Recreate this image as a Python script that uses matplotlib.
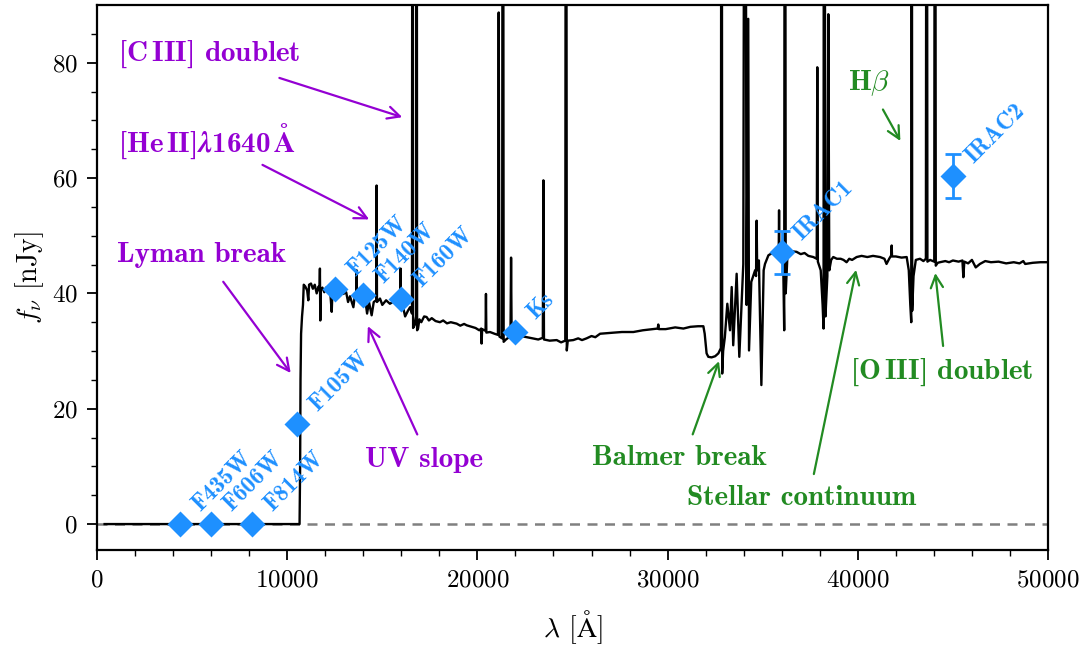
import numpy as np
import matplotlib
matplotlib.use('Agg')
import matplotlib.pyplot as plt

plt.rcParams['font.family'] = ['cmr10', 'DejaVu Serif']
plt.rcParams['mathtext.fontset'] = 'cm'
plt.rcParams['axes.formatter.use_mathtext'] = True

# model spectrum, wavelength [A] and flux density [nJy]; lines that run off the top get 200
wave = [400, 10650, 10680, 10700, 10730, 10780, 10830, 10870,
        10950, 11050, 11110, 11150, 11250, 11350, 11450, 11550, 11650, 11700, 11720, 11740, 11760,
        11850, 11950, 12050, 12150, 12250, 12340, 12380, 12500, 12650, 12800, 12950, 13100, 13200,
        13300, 13480, 13550, 13630, 13650, 13670, 13800, 13950, 14100, 14200, 14300, 14440, 14550,
        14680, 14700, 14720, 14880, 15000, 15200, 15400, 15600, 15800, 15940, 15960, 15980, 16100,
        16200, 16350, 16460, 16560, 16590, 16620, 16700, 16780, 16800, 16830, 16880,
        16950, 17050, 17200, 17330, 17450, 17600, 17800, 18030, 18200, 18400, 18600, 18910, 19100,
        19300, 19440, 19700, 19900, 20100, 20200, 20220, 20250, 20430, 20450, 20470, 20660, 20900,
        21080, 21120, 21160, 21300, 21340, 21380, 21500, 21740, 21770, 21800, 22000, 22300, 22590,
        22900, 23200, 23440, 23470, 23500, 23800, 24170, 24400, 24620, 24660, 24700, 24750, 25040,
        25300, 25500, 25740, 26000, 26200, 26450, 26800, 27200, 27600, 28200, 28700, 29200, 29480,
        29510, 29540, 29900, 30400, 30830, 31200, 31600, 31880, 31950, 32050, 32140, 32310, 32500,
        32670, 32800, 32840, 32870, 32920, 33010, 33140, 33280, 33370, 33450, 33630, 33770, 33980,
        34070, 34150, 34240, 34280, 34400, 34600, 34650, 34680, 34710, 34800, 34930, 35050, 35120,
        35300, 35500, 35700, 35840, 35860, 35880, 36000, 36080, 36130, 36170, 36210, 36300, 36500,
        36780, 37000, 37200, 37400, 37660, 37840, 37870, 37900, 38050, 38150, 38200, 38220, 38300,
        38400, 38450, 38500, 38600, 38710, 38900, 39100, 39250, 39410, 39550, 39700, 39940, 40200,
        40500, 40800, 41170, 41400, 41510, 41650, 41760, 41780, 41800, 42000, 42300, 42570, 42680,
        42760, 42810, 42830, 42860, 42930, 43050, 43270, 43450, 43580, 43620, 43660, 43800, 44020,
        44060, 44100, 44200, 44320, 44600, 44800, 45000, 45300, 45500, 45550, 45600, 45800, 46000,
        46200, 46420, 46700, 47000, 47400, 47800, 48200, 48500, 48700, 48800, 49200, 49600, 50000]
flux = [0, 0, 10, 25, 33, 36, 38, 41.5,
        41.2, 40.5, 38.8, 41.5, 41.7, 40.8, 41.5, 40.0, 41.2, 40.5, 44.3, 35.3, 40.5,
        41.0, 40.2, 41.0, 40.5, 40.8, 36.8, 40.5, 40.6, 40.0, 40.3, 39.9, 40.2, 38.5,
        39.5, 37.6, 39.5, 39.8, 44.0, 39.0, 39.5, 38.8, 39.0, 36.5, 38.5, 36.2, 38.5,
        38.8, 58.7, 38.5, 39.1, 38.0, 38.8, 38.2, 38.6, 38.0, 38.3, 44.3, 37.8, 37.5,
        36.0, 37.0, 37.6, 36.5, 200, 34.0, 34.5, 36.0, 200, 33.6, 33.9,
        35.5, 35.0, 36.0, 35.9, 35.3, 35.7, 35.2, 35.0, 35.3, 34.8, 35.0, 34.75, 34.4,
        34.7, 34.46, 34.2, 34.0, 33.6, 33.9, 31.3, 33.8, 33.5, 39.9, 33.2, 33.3, 33.0,
        32.8, 88.7, 32.5, 32.2, 200, 31.6, 32.0, 32.6, 46.2, 32.5, 32.8, 32.6, 32.4,
        32.2, 32.0, 32.3, 59.6, 32.0, 31.8, 31.9, 31.5, 31.8, 200, 30.1, 31.8, 31.9,
        32.2, 31.9, 32.2, 32.6, 32.4, 33.0, 33.1, 33.2, 33.3, 33.3, 33.6, 33.8, 33.9,
        34.6, 33.8, 33.8, 34.1, 33.9, 34.2, 34.3, 34.3, 33.0, 29.6, 29.0, 28.9, 29.1,
        29.6, 30.5, 200, 26.1, 30.0, 32.4, 38.2, 33.6, 41.1, 31.0, 43.4, 29.0, 45.1,
        200, 38.0, 87.6, 30.1, 42.0, 44.0, 43.0, 52.6, 44.0, 45.7, 24.1, 44.0, 45.1,
        46.6, 47.0, 46.8, 46.5, 54.4, 46.0, 46.5, 45.0, 33.6, 200, 40.0, 46.5, 47.3,
        47.2, 46.8, 47.0, 46.5, 46.3, 46.0, 79.2, 45.5, 44.0, 38.0, 33.9, 200, 36.0,
        43.0, 88.4, 44.0, 45.8, 46.3, 46.0, 46.0, 45.8, 45.4, 46.0, 45.8, 46.3, 46.5,
        46.3, 46.5, 46.3, 46.0, 45.1, 46.0, 46.6, 48.3, 46.4, 46.4, 46.2, 46.3, 44.0,
        38.0, 35.0, 200, 37.0, 43.0, 45.8, 46.0, 45.6, 46.0, 200, 45.5, 45.8, 45.5,
        200, 44.8, 45.3, 45.4, 45.6, 45.4, 45.7, 45.5, 45.7, 42.8, 45.5, 45.2, 45.8,
        44.5, 45.1, 45.6, 45.4, 45.5, 45.2, 45.4, 45.2, 45.6, 45.1, 45.3, 45.4, 45.4]

# broad-band photometry
bands = ['F435W', 'F606W', 'F814W', 'F105W', 'F125W', 'F140W', 'F160W', 'Ks', 'IRAC1', 'IRAC2']
band_wave = [4350, 6000, 8150, 10500, 12500, 14000, 16000, 22000, 36000, 45000]
band_flux = [0, 0, 0, 17.3, 40.7, 39.65, 38.95, 33.25, 47.1, 60.3]
band_err = [0, 0, 0, 0, 0, 0, 0, 0, 3.7, 3.8]

purple = 'darkviolet'
green = 'forestgreen'
blue = 'dodgerblue'

fig = plt.figure(figsize=(10.85, 6.48), dpi=100)
ax = fig.add_axes([0.0894, 0.1512, 0.8765, 0.8411])

ax.axhline(0, color='gray', ls='--', lw=1.8, dashes=(4, 3), zorder=1)
ax.plot(wave, flux, color='black', lw=1.7, zorder=2)

ax.errorbar(band_wave[8:], band_flux[8:], yerr=band_err[8:], fmt='none', ecolor=blue,
            elinewidth=2, capsize=6, capthick=2, zorder=3)
ax.plot(band_wave, band_flux, 'D', color=blue, ms=13, mec='none', zorder=4)
for name, x, y in zip(bands, band_wave, band_flux):
    ax.annotate(name, (x, y), xytext=(17, 6), textcoords='offset points', rotation=45,
                rotation_mode='anchor', ha='left', va='bottom', color=blue,
                fontsize=17, family='cmb10')

lab = dict(family='cmb10', fontsize=21, va='center', ha='left')
arr = dict(arrowstyle='->', lw=1.6, mutation_scale=22)

ax.text(1100, 81.5, '[C$\\,$III] doublet', color=purple, **lab)
ax.annotate('', xy=(16190, 70.4), xytext=(9450, 77.5), arrowprops=dict(color=purple, **arr))
ax.text(1100, 66.3, '[He$\\,$II]$\\mathbfit{\\lambda}$1640$\\,\\mathbf{\\AA}$', color=purple,
        math_fontfamily='stix', **lab)
ax.annotate('', xy=(14440, 52.6), xytext=(8570, 62.5), arrowprops=dict(color=purple, **arr))
ax.text(1050, 46.6, 'Lyman break', color=purple, **lab)
ax.annotate('', xy=(10270, 25.8), xytext=(6550, 42.4), arrowprops=dict(color=purple, **arr))
ax.text(14090, 11.1, 'UV slope', color=purple, **lab)
ax.annotate('', xy=(14180, 34.75), xytext=(16900, 15.1), arrowprops=dict(color=purple, **arr))

ax.text(39500, 76.4, 'H$\\beta$', color=green, **lab)
ax.annotate('', xy=(42310, 66.0), xytext=(41250, 72.3), arrowprops=dict(color=green, **arr))
ax.text(39590, 26.3, '[O$\\,$III] doublet', color=green, **lab)
ax.annotate('', xy=(44060, 44.0), xytext=(44500, 30.4), arrowprops=dict(color=green, **arr))
ax.text(31000, 4.5, 'Stellar continuum', color=green, **lab)
ax.annotate('', xy=(39940, 44.55), xytext=(37660, 8.2), arrowprops=dict(color=green, **arr))
ax.text(26000, 11.4, 'Balmer break', color=green, **lab)
ax.annotate('', xy=(32750, 28.7), xytext=(31270, 15.1), arrowprops=dict(color=green, **arr))

ax.set_xlim(0, 50000)
ax.set_ylim(-4.5, 90)
ax.set_xticks(np.arange(0, 50001, 10000))
ax.set_xticks(np.arange(0, 50001, 2000), minor=True)
ax.set_yticks(np.arange(0, 81, 20))
ax.set_yticks(np.arange(0, 90, 5), minor=True)
ax.tick_params(which='major', length=7, width=1.3, labelsize=18, pad=7)
ax.tick_params(which='minor', length=4, width=1.0)
for s in ax.spines.values():
    s.set_linewidth(1.6)

ax.set_xlabel('$\\lambda$ [$\\mathrm{\\AA}$]', fontsize=20, labelpad=12)
ax.set_ylabel('$f_\\nu$ [nJy]', fontsize=20, labelpad=4)

fig.savefig('out.png', dpi=100)
